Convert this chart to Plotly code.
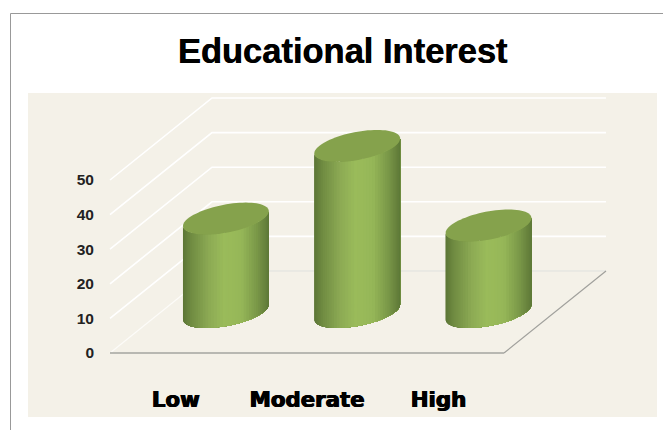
import math
import plotly.graph_objects as go

# --- data ---
categories = ["Low", "Moderate", "High"]
values = [27, 48, 25]
tick_values = [0, 10, 20, 30, 40, 50]

# --- layout constants (pixels on the page) ---
W, H = 663, 430
PX_PER_UNIT = 3.46      # y scale
PX_PER_CAT = 131.33     # x scale
ZERO_Y_PX = 353
FRONT_LEFT_PX = 110
DEPTH_PX = (102, 82)
CYL_SHIFT_PX = -0.8

x0 = (FRONT_LEFT_PX + PX_PER_CAT / 2)
x_range = [-x0 / PX_PER_CAT, (W - x0) / PX_PER_CAT]
y_range = [-(H - ZERO_Y_PX) / PX_PER_UNIT, ZERO_Y_PX / PX_PER_UNIT]
dx_depth = DEPTH_PX[0] / PX_PER_CAT
dy_depth = DEPTH_PX[1] / PX_PER_UNIT
x_left, x_right = -0.5, len(categories) - 0.5

R = 38 / PX_PER_CAT
K = 0.39
T0 = math.atan2(K * DEPTH_PX[0] / 2, 38)
N = 44


def ellipse(cx, base, t):
    c = math.cos(t)
    s = math.sin(t)
    x = cx + CYL_SHIFT_PX / PX_PER_CAT + dx_depth / 2 + R * c + K * dx_depth / 2 * s
    y = base + dy_depth / 2 + K * dy_depth / 2 * s
    return x, y


def shade(f):
    # f in 0..1 across the visible width of the cylinder
    stops = [(0.0, (92, 118, 54)), (0.10, (112, 140, 66)), (0.30, (140, 170, 84)),
             (0.48, (154, 187, 90)), (0.68, (150, 183, 88)), (0.86, (122, 152, 72)),
             (1.0, (94, 120, 56))]
    for (a, ca), (b, cb) in zip(stops, stops[1:]):
        if a <= f <= b:
            u = (f - a) / (b - a)
            return "rgb(%d,%d,%d)" % tuple(round(p + (q - p) * u) for p, q in zip(ca, cb))
    return "rgb(94,120,56)"


fig = go.Figure()


def line(xs, ys, color, width):
    fig.add_trace(go.Scatter(x=xs, y=ys, mode="lines", line=dict(color=color, width=width),
                             hoverinfo="skip", showlegend=False))


# walls: gridlines on side and back walls
for v in tick_values:
    if v == 0:
        continue
    line([x_left, x_left + dx_depth, x_right + dx_depth],
         [v, v + dy_depth, v + dy_depth], "#ffffff", 1.6)
line([x_left, x_left + dx_depth], [0, dy_depth], "#fdfcf9", 1.2)
line([x_left + dx_depth, x_right + dx_depth], [dy_depth, dy_depth], "#dfe1de", 1)
line([x_right, x_right + dx_depth], [0, dy_depth], "#a0a09c", 1.2)
line([x_left, x_right], [0, 0], "#b8b8b2", 2)

# cylinders: strips painted left to right, each covering the rest of the body
for i, v in enumerate(values):
    ts = [T0 + math.pi + math.pi * j / N for j in range(N + 1)]
    xmin = ellipse(i, 0, ts[0])[0]
    xmax = ellipse(i, 0, ts[-1])[0]
    for j in range(N):
        rest = [ellipse(i, 0, t) for t in ts[j:]]
        mid = (rest[0][0] + rest[1][0]) / 2
        col = shade((mid - xmin) / (xmax - xmin))
        xs = [p[0] for p in rest] + [p[0] for p in reversed(rest)]
        ys = [p[1] for p in rest] + [p[1] + v for p in reversed(rest)]
        fig.add_trace(go.Scatter(
            x=xs + xs[:1], y=ys + ys[:1],
            mode="none", fill="toself", fillcolor=col,
            hoverinfo="skip", showlegend=False))
    top = [ellipse(i, v, 2 * math.pi * j / 80) for j in range(81)]
    fig.add_trace(go.Scatter(
        x=[p[0] for p in top], y=[p[1] for p in top],
        mode="none", fill="toself", fillcolor="#85a24c",
        hoverinfo="skip", showlegend=False))

fig.update_layout(
    width=W, height=H, margin=dict(l=0, r=0, t=0, b=0),
    paper_bgcolor="white", plot_bgcolor="rgba(0,0,0,0)", showlegend=False,
    title=dict(text="<b>Educational Interest</b>", x=342.5 / W, xanchor="center",
               y=1 - 51 / H, yanchor="middle",
               font=dict(family="Liberation Sans", size=34.5, color="black",
                         shadow="0.5px 0 0 black")),
    xaxis=dict(range=x_range, tickmode="array", tickvals=list(range(len(categories))),
               ticktext=["<b>%s</b>" % c for c in categories],
               showgrid=False, zeroline=False, showline=False, ticks="",
               anchor="free", position=(H - 385) / H,
               tickfont=dict(family="DejaVu Sans", size=21.3, color="black",
                             shadow="0.7px 0 0 black, -0.4px 0 0 black")),
    yaxis=dict(range=y_range, tickmode="array", tickvals=tick_values,
               showgrid=False, zeroline=False, showline=False, ticks="",
               anchor="free", position=94 / W,
               tickfont=dict(family="Liberation Sans", size=15.5, color="#222222",
                             weight="bold")),
    shapes=[
        dict(type="rect", xref="paper", yref="paper", layer="below",
             x0=28 / W, x1=657 / W, y0=1 - 417 / H, y1=1 - 93 / H,
             fillcolor="#f4f1e8", line=dict(width=0)),
        dict(type="line", xref="paper", yref="paper", x0=10.5 / W, x1=10.5 / W,
             y0=0, y1=1 - 13.5 / H, line=dict(color="#999999", width=1)),
        dict(type="line", xref="paper", yref="paper", x0=10.5 / W, x1=1,
             y0=1 - 13.5 / H, y1=1 - 13.5 / H, line=dict(color="#999999", width=1)),
    ],
)
fig.write_html("out.html", config=dict(displayModeBar=False),
               post_script="document.body.style.margin='0';document.documentElement.style.overflow='hidden';")
